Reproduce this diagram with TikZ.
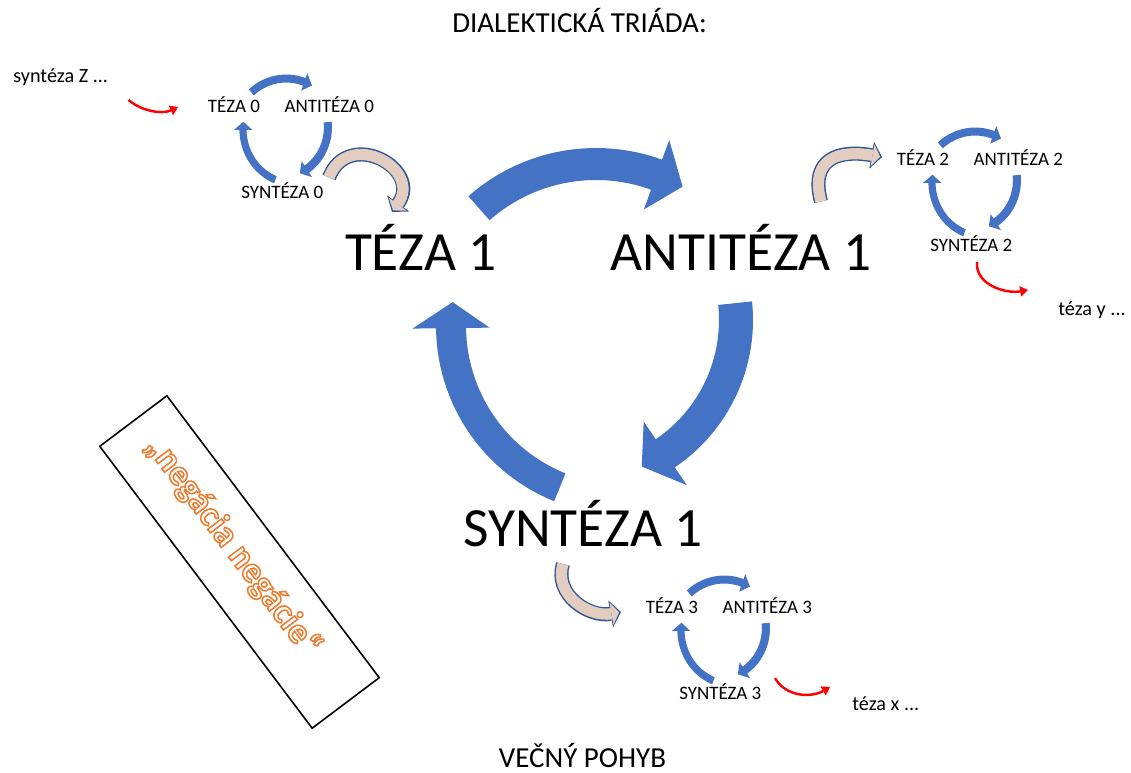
\documentclass[tikz,border=0pt]{standalone}
\usepackage{fontspec}
\setmainfont{Carlito}
\usepackage{tikz}
\usetikzlibrary{arrows.meta,positioning}

\definecolor{modra}{RGB}{68,114,196}
\definecolor{obrys}{RGB}{47,85,151}
\definecolor{bezova}{RGB}{226,205,192}
\definecolor{cervena}{RGB}{255,0,0}
\definecolor{oranzova}{RGB}{237,125,49}

% block arc arrow: style, centre x, centre y, radius, tail angle, head angle, tip angle, half width, head half width
\newcommand{\blokoblouk}[9]{%
    \fill[#1] plot[domain=#5:#6,samples=30] ({#2+(#4+#8)*cos(\x)},{#3+(#4+#8)*sin(\x)})
        -- ({#2+(#4+#9)*cos(#6)},{#3+(#4+#9)*sin(#6)})
        -- ({#2+#4*cos(#7)},{#3+#4*sin(#7)})
        -- ({#2+(#4-#9)*cos(#6)},{#3+(#4-#9)*sin(#6)})
        -- plot[domain=#6:#5,samples=30] ({#2+(#4-#8)*cos(\x)},{#3+(#4-#8)*sin(\x)})
        -- cycle;}
% hollow letters
\newcommand{\duta}[1]{\special{pdf:literal direct 1 Tr 0.9 w}#1\special{pdf:literal direct 0 Tr}}

\tikzset{
    %Define styles for texts
    velky/.style={anchor=base, inner sep=2pt, font=\fontsize{31.5}{38}\selectfont},
    maly/.style={anchor=base, inner sep=2pt, font=\fontsize{10.8}{13}\selectfont},
    poznamka/.style={anchor=base west, inner sep=2pt, font=\fontsize{11.5}{14}\selectfont},
    nadpis/.style={anchor=base, inner sep=0pt, font=\fontsize{16.5}{20}\selectfont},
    ramik/.style={
           draw=black, line width=0.9pt,
           rotate=-53,
           minimum width=7.06cm,
           minimum height=1.68cm},
    napis/.style={
           rotate=-53, inner sep=0pt,
           text=oranzova,
           font=\bfseries\fontsize{20.5}{24}\selectfont},
    % Define arrow styles
    prechod/.style={
           draw=bezova, line width=6.4pt,
           -{Triangle[length=4.4pt,width=12.6pt,line width=0pt]},
           shorten >=1.1pt,
           preaction={draw=obrys, line width=8pt, shorten >=0pt,
               -{Triangle[length=6pt,width=15.5pt,line width=0pt]}}},
    odbocka/.style={
           draw=cervena, line width=1.4pt,
           -{Triangle[length=4.5pt,width=6pt,line width=0pt]}}
}

\begin{document}
\begin{tikzpicture}[x=0.02cm, y=-0.02cm,
    pics/triada/.style n args={5}{code={
        \node[#4] (-t) at (-164,-74) {#1};
        \node[#4] (-a) at (156,-74) {#2};
        \node[#4] (-s) at (-2,201) {#3};
        \blokoblouk{modra}{11}{-4}{177}{-131.4}{-70}{-60.7}{16*#5}{37*#5}
        \blokoblouk{modra}{-10}{-25}{161}{-6}{55.9}{65.5}{17*#5}{38.5*#5}
        \blokoblouk{modra}{40}{-19}{174}{112}{179.3}{187.9}{15*#5}{38.5*#5}
    }}]
\useasboundingbox (0,0) rectangle (1131,773);
\node[nadpis] (nadpis) at (579.5,33) {DIALEKTICKÁ TRIÁDA:};
\node[nadpis] (pohyb) at (582.5,767) {VEČNÝ POHYB};

% the big cycle and its three small copies
\pic (c1) at (585,345) {triada={TÉZA 1}{ANTITÉZA 1}{SYNTÉZA 1}{velky}{1}};
\pic[xscale=0.298,yscale=0.313] (c0) at (282.9,135.2) {triada={TÉZA 0}{ANTITÉZA 0}{SYNTÉZA 0}{maly}{0.8}};
\pic[xscale=0.298,yscale=0.313] (c2) at (971.9,188.2) {triada={TÉZA 2}{ANTITÉZA 2}{SYNTÉZA 2}{maly}{0.8}};
\pic[xscale=0.298,yscale=0.313] (c3) at (720.9,636.2) {triada={TÉZA 3}{ANTITÉZA 3}{SYNTÉZA 3}{maly}{0.8}};

\node[poznamka] (synZ) at (9.5,83) {syntéza Z ...};
\node[poznamka] (tezY) at (1054.5,315) {téza y ...};
\node[poznamka] (tezX) at (848.5,710) {téza x ...};
\node[ramik] (negace) at (239.5,562) {};
\node[napis] (negtext) at (233,546) {\duta{„negácia negácie“}};

% transitions between the cycles
\draw[prechod] ([shift={(46.7,-20.6)}]c0-s.base) to[out=69,in=54,looseness=1.9] ([shift={(-29,-59)}]c1-t.base);
\draw[prechod] ([shift={(80,-69.5)}]c1-a.base) to[out=105,in=170,looseness=1.5] ([shift={(-41,-8)}]c2-t.base);
\draw[prechod] ([shift={(-20,18)}]c1-s.base) to[out=-107,in=190,looseness=1.1] ([shift={(-51,-1)}]c3-t.base);
\draw[odbocka] ([shift={(16.5,17)}]synZ.base east) to[out=-40,in=205,looseness=0.9] ([shift={(-56,-5)}]c0-t.base);
\draw[odbocka] ([shift={(5.7,11)}]c2-s.base) to[out=-95,in=190] ([shift={(-26.5,-25)}]tezY.base west);
\draw[odbocka] ([shift={(54.7,-21)}]c3-s.base) to[out=-60,in=210] ([shift={(-18.5,-23)}]tezX.base west);
\end{tikzpicture}
\end{document}
